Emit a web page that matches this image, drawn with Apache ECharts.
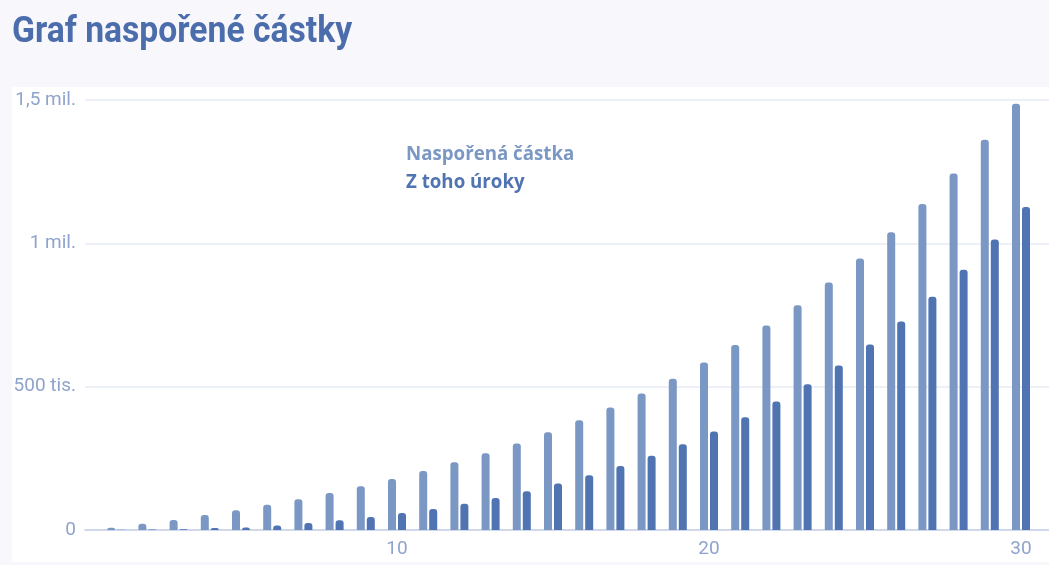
<!DOCTYPE html>
<html>
<head>
<meta charset="utf-8">
<script src="https://cdn.jsdelivr.net/npm/echarts@6/dist/echarts.min.js"></script>
<style>
html,body{margin:0;padding:0;background:#f8f8fc;}
#c{width:1049px;height:565px;}
</style>
</head>
<body>
<div id="c"></div>
<script>
var years = [1,2,3,4,5,6,7,8,9,10,11,12,13,14,15,16,17,18,19,20,21,22,23,24,25,26,27,28,29,30];
var saved = [8000,22000,35000,52000,69000,88000,107000,129000,153000,178000,206000,236000,268000,302000,341000,383000,427000,476000,528000,584000,645000,713000,784000,863000,947000,1039000,1137000,1244000,1361000,1487000];
var interest = [500,1500,3000,7000,9000,16000,24000,34000,45000,59000,73000,92000,112000,135000,162000,191000,223000,259000,299000,344000,393000,448000,508000,574000,647000,727000,814000,908000,1013000,1127000];
var yTickLabels = ['0','500 tis.','1 mil.','1,5 mil.'];
var xTickLabels = {10:'10',20:'20',30:'30'};
var seriesNames = ['Naspořená částka','Z toho úroky'];
var titleText = 'Graf naspořené částky';

var lightColor = '#7b97c4';
var darkColor = '#5073b2';

function pairs(vals){ return years.map(function(y,i){ return [y, vals[i]]; }); }

var chart = echarts.init(document.getElementById('c'));
chart.setOption({
  backgroundColor: '#f8f8fc',
  animation: false,
  graphic: [
    {type:'rect', z:-10, silent:true, shape:{x:12,y:87,width:1040,height:475}, style:{fill:'#ffffff'}},
    {type:'text', left:12, top:14, scaleX:0.91, style:{text:titleText, font:'bold 37px Roboto', fill:'#4c6dac'}}
  ],
  legend: {
    orient:'vertical', left:401, top:140, itemGap:9, icon:'none', itemWidth:0, itemHeight:0,
    selectedMode:false,
    data:[
      {name:seriesNames[0], textStyle:{color:lightColor}},
      {name:seriesNames[1], textStyle:{color:darkColor}}
    ],
    textStyle:{fontFamily:'Open Sans', fontWeight:'bold', fontSize:18.7, padding:[0,0,0,-5]}
  },
  grid: {left:85, width:967.2, top:100, bottom:35, outerBoundsMode:'none', containLabel:false},
  xAxis: {
    type:'value', min:0, max:31, interval:10,
    axisLine:{show:true, lineStyle:{color:'#c5d1e8', width:1.5}},
    axisTick:{show:false},
    splitLine:{show:false},
    axisLabel:{color:'#8fa3cc', fontFamily:'Roboto', fontSize:19, margin:10,
      formatter:function(v){ return xTickLabels[v] || ''; }}
  },
  yAxis: {
    type:'value', min:0, max:1500000, interval:500000,
    axisLine:{show:false}, axisTick:{show:false},
    splitLine:{lineStyle:{color:'#e6ebf5', width:1.5}},
    axisLabel:{color:'#8fa3cc', fontFamily:'Roboto', fontSize:19, margin:9,
      formatter:function(v){ return yTickLabels[Math.round(v/500000)]; }}
  },
  series: [
    {name:seriesNames[0], type:'bar', data:pairs(saved), barWidth:8, barGap:'25%',
     itemStyle:{color:lightColor, borderRadius:[3,3,0,0]}},
    {name:seriesNames[1], type:'bar', data:pairs(interest), barWidth:8, barGap:'25%',
     itemStyle:{color:darkColor, borderRadius:[3,3,0,0]}}
  ]
});
</script>
</body>
</html>
